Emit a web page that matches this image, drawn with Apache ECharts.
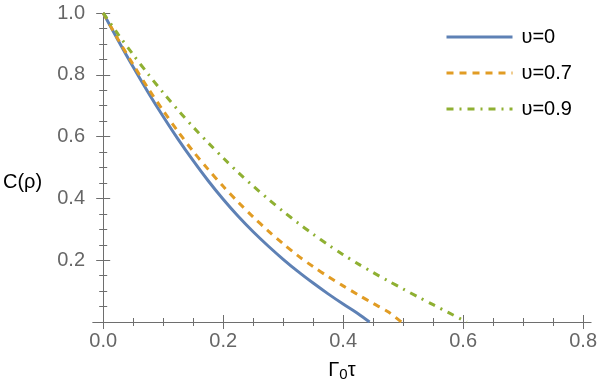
<!DOCTYPE html>
<html>
<head>
<meta charset="utf-8">
<script src="https://cdn.jsdelivr.net/npm/echarts@6/dist/echarts.min.js"></script>
<style>
  html, body { margin: 0; padding: 0; background: #fff; }
  #main { width: 600px; height: 390px; }
</style>
</head>
<body>
<div id="main"></div>
<script>
// values
var seriesNames = ['υ=0', 'υ=0.7', 'υ=0.9'];

var tau0 = [0, 0.025, 0.05, 0.075, 0.1, 0.125, 0.15, 0.175, 0.2, 0.225, 0.25, 0.275, 0.3, 0.325, 0.35, 0.375, 0.4, 0.425, 0.444];
var c0 = [1, 0.911, 0.825, 0.743, 0.665, 0.591, 0.522, 0.457, 0.397, 0.342, 0.292, 0.246, 0.203, 0.163, 0.126, 0.091, 0.058, 0.027, 0];

var tau07 = [0, 0.025, 0.05, 0.075, 0.1, 0.125, 0.15, 0.175, 0.2, 0.225, 0.25, 0.275, 0.3, 0.325, 0.35, 0.375, 0.4, 0.425, 0.45, 0.475, 0.497];
var c07 = [1, 0.914, 0.833, 0.756, 0.684, 0.616, 0.552, 0.494, 0.439, 0.388, 0.34, 0.295, 0.253, 0.214, 0.179, 0.147, 0.117, 0.088, 0.06, 0.033, 0];

var tau09 = [0, 0.025, 0.05, 0.075, 0.1, 0.125, 0.15, 0.175, 0.2, 0.225, 0.25, 0.275, 0.3, 0.325, 0.35, 0.375, 0.4, 0.425, 0.45, 0.475, 0.5, 0.525, 0.55, 0.575, 0.6, 0.606];
var c09 = [1, 0.931, 0.865, 0.802, 0.742, 0.685, 0.631, 0.58, 0.531, 0.484, 0.44, 0.398, 0.358, 0.32, 0.284, 0.25, 0.218, 0.188, 0.16, 0.133, 0.107, 0.081, 0.056, 0.031, 0.006, 0];

var xTicks = [0, 0.2, 0.4, 0.6, 0.8];
var xMinorTicks = [0.05, 0.1, 0.15, 0.25, 0.3, 0.35, 0.45, 0.5, 0.55, 0.65, 0.7, 0.75];
var yTicks = [0.2, 0.4, 0.6, 0.8, 1.0];
var yMinorTicks = [0.05, 0.1, 0.15, 0.25, 0.3, 0.35, 0.45, 0.5, 0.55, 0.65, 0.7, 0.75, 0.85, 0.9, 0.95];

function pairs(xs, ys) {
    let out = [];
    for (let i = 0; i < xs.length; i++) {
        out.push([xs[i], ys[i]]);
    }
    return out;
}

var chartDom = document.getElementById('main');
var myChart = echarts.init(chartDom, null, { renderer: 'canvas' });

var frameColor = '#6e6e6e';
var labelColor = '#666666';
var font = 'Liberation Sans, Arial, sans-serif';

function xAxisDef(pos, ticks, len, showLine, showLabel) {
    return {
        type: 'value',
        position: pos,
        min: -0.017,
        max: 0.813,
        axisLine: { show: showLine, lineStyle: { color: frameColor, width: 1 } },
        axisTick: { show: true, inside: true, length: len, customValues: ticks, lineStyle: { color: frameColor } },
        axisLabel: {
            show: showLabel,
            customValues: ticks,
            formatter: (v) => v.toFixed(1),
            fontSize: 20,
            color: labelColor,
            fontFamily: font,
            margin: 9
        },
        splitLine: { show: false }
    };
}

function yAxisDef(pos, ticks, len, showLine, showLabel) {
    return {
        type: 'value',
        position: pos,
        min: 0,
        max: 1,
        axisLine: { show: showLine, lineStyle: { color: frameColor, width: 1 } },
        axisTick: { show: true, inside: true, length: len, customValues: ticks, lineStyle: { color: frameColor } },
        axisLabel: {
            show: showLabel,
            customValues: ticks,
            formatter: (v) => v.toFixed(1),
            fontSize: 20,
            color: labelColor,
            fontFamily: font,
            margin: 8
        },
        splitLine: { show: false }
    };
}

var xMain = xAxisDef('bottom', xTicks, 7, true, true);
xMain.name = 'Γ{sub|0}τ';
xMain.nameLocation = 'middle';
xMain.nameGap = 37;
xMain.nameTextStyle = {
    fontSize: 20,
    color: '#000',
    fontFamily: font,
    rich: {
        sub: { fontSize: 15, verticalAlign: 'bottom', padding: [8, 0, 0, 0], color: '#000', fontFamily: font }
    }
};

var option = {
    animation: false,
    grid: { left: 93, right: 7, top: 13, bottom: 68 },
    xAxis: [
        xMain,
        xAxisDef('bottom', xMinorTicks, 4, false, false),
        xAxisDef('top', xTicks, 7, true, false),
        xAxisDef('top', xMinorTicks, 4, false, false)
    ],
    yAxis: [
        yAxisDef('left', yTicks, 7, true, true),
        yAxisDef('left', yMinorTicks, 4, false, false),
        yAxisDef('right', yTicks, 7, true, false),
        yAxisDef('right', yMinorTicks, 4, false, false)
    ],
    legend: {
        orient: 'vertical',
        left: 440,
        top: 22,
        itemWidth: 66,
        itemHeight: 14,
        itemGap: 16,
        itemStyle: { opacity: 0 },
        lineStyle: { width: 3 },
        textStyle: { fontSize: 20, color: '#000', fontFamily: font, padding: [0, 0, 0, 4] },
        data: seriesNames
    },
    graphic: [
        {
            type: 'text',
            left: 3,
            top: 172,
            style: { text: 'C(ρ)', fontSize: 20, fill: '#000', fontFamily: font }
        }
    ],
    series: [
        {
            name: seriesNames[0],
            type: 'line',
            smooth: 0.3,
            symbol: 'none',
            lineStyle: { color: '#5E81B5', width: 3 },
            itemStyle: { color: '#5E81B5' },
            data: pairs(tau0, c0)
        },
        {
            name: seriesNames[1],
            type: 'line',
            smooth: 0.3,
            symbol: 'none',
            lineStyle: { color: '#E19C24', width: 3, type: [7, 6] },
            itemStyle: { color: '#E19C24' },
            data: pairs(tau07, c07)
        },
        {
            name: seriesNames[2],
            type: 'line',
            smooth: 0.3,
            symbol: 'none',
            lineStyle: { color: '#8FB032', width: 3, type: [7, 6, 2, 6] },
            itemStyle: { color: '#8FB032' },
            data: pairs(tau09, c09)
        }
    ]
};

option && myChart.setOption(option);
</script>
</body>
</html>
